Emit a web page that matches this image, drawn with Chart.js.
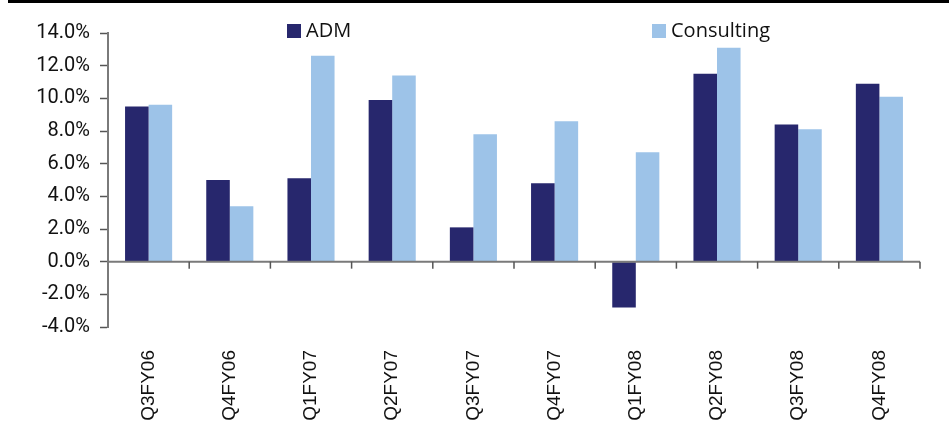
<html>

<head>
    <script src="https://cdn.jsdelivr.net/npm/chart.js@4.4.0/dist/chart.umd.min.js"></script>
    <style>
        body {
            margin: 0;
            background: #fff;
        }

        .col {
            width: 949px;
            height: 426px;
            position: relative;
        }
    </style>
</head>

<body>
    <div class="col">
        <canvas id="myChart"></canvas>
    </div>
    <script>
        const quarters = ["Q3FY06", "Q4FY06", "Q1FY07", "Q2FY07", "Q3FY07", "Q4FY07", "Q1FY08", "Q2FY08", "Q3FY08", "Q4FY08"];
        const adm = [9.5, 5.0, 5.1, 9.9, 2.1, 4.8, -2.8, 11.5, 8.4, 10.9];
        const consulting = [9.6, 3.4, 12.6, 11.4, 7.8, 8.6, 6.7, 13.1, 8.1, 10.1];
        const yTicks = [-4, -2, 0, 2, 4, 6, 8, 10, 12, 14];

        const navy = "#27276d";
        const sky = "#9dc3e8";
        const axisGrey = "#7a7a7a";

        // black rule across the top + legend drawn by hand
        const frame = {
            id: "frame",
            beforeDraw(chart) {
                const c = chart.ctx;
                c.save();
                c.fillStyle = "#fff";
                c.fillRect(0, 0, chart.width, chart.height);
                c.fillStyle = "#000";
                c.fillRect(8, 0, chart.width - 8, 3);
                c.restore();
            },
            afterDraw(chart) {
                const c = chart.ctx;
                const spots = [287, 652];
                c.save();
                c.font = "20px 'Open Sans'";
                c.textBaseline = "middle";
                chart.data.datasets.forEach((ds, i) => {
                    c.fillStyle = ds.backgroundColor;
                    c.fillRect(spots[i], 24, 14, 14);
                    c.fillStyle = "#111";
                    c.fillText(ds.label, spots[i] + 19, 31);
                });
                c.restore();
            }
        };

        // zero line with category ticks hanging below it
        const zeroAxis = {
            id: "zeroAxis",
            afterDatasetsDraw(chart) {
                const x = chart.scales.x;
                const y = chart.scales.y;
                const c = chart.ctx;
                const y0 = y.getPixelForValue(0);
                const area = chart.chartArea;
                c.save();
                c.strokeStyle = axisGrey;
                c.lineWidth = 2;
                c.beginPath();
                c.moveTo(area.left, y0);
                c.lineTo(area.right, y0);
                c.stroke();
                c.strokeStyle = "#555";
                c.lineWidth = 1.5;
                for (let i = 1; i <= quarters.length; i++) {
                    let px;
                    if (i == quarters.length) px = area.right;
                    else px = (x.getPixelForValue(i - 1) + x.getPixelForValue(i)) / 2;
                    c.beginPath();
                    c.moveTo(px, y0);
                    c.lineTo(px, y0 + 7);
                    c.stroke();
                }
                c.restore();
            }
        };

        var ctx = document.getElementById('myChart').getContext('2d');
        var myChart = new Chart(ctx, {
            type: 'bar',
            data: {
                labels: quarters,
                datasets: [{
                    label: "ADM",
                    data: adm,
                    backgroundColor: navy
                }, {
                    label: "Consulting",
                    data: consulting,
                    backgroundColor: sky
                }]
            },
            options: {
                responsive: true,
                maintainAspectRatio: false,
                animation: false,
                layout: {
                    padding: { top: 33, right: 29, bottom: 0, left: 0 }
                },
                plugins: {
                    legend: { display: false },
                    tooltip: { enabled: false }
                },
                datasets: {
                    bar: {
                        categoryPercentage: 0.58,
                        barPercentage: 1.0
                    }
                },
                scales: {
                    x: {
                        grid: { display: false },
                        border: { display: false },
                        ticks: {
                            minRotation: 90,
                            maxRotation: 90,
                            padding: 15,
                            color: "#111",
                            font: { family: "'Liberation Sans'", size: 19 }
                        },
                        afterFit(scale) {
                            scale.height = 99;
                        }
                    },
                    y: {
                        min: -4,
                        max: 14,
                        afterBuildTicks(scale) {
                            scale.ticks = yTicks.map(v => ({ value: v }));
                        },
                        grid: {
                            drawOnChartArea: false,
                            tickLength: 8,
                            tickWidth: 1.5,
                            color: "#555"
                        },
                        border: { color: axisGrey, width: 2 },
                        ticks: {
                            padding: 10,
                            color: "#111",
                            font: { family: "Roboto", size: 20 },
                            callback: v => v.toFixed(1) + "%"
                        },
                        afterFit(scale) {
                            scale.width = 108;
                        }
                    }
                }
            },
            plugins: [frame, zeroAxis]
        });
    </script>
</body>

</html>
